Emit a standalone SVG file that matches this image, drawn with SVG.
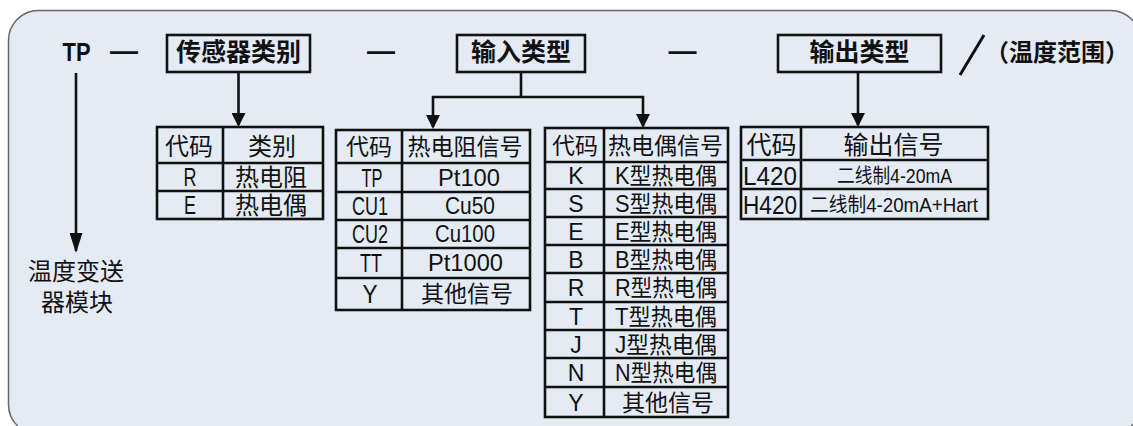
<svg xmlns="http://www.w3.org/2000/svg" width="1133" height="426" viewBox="0 0 1133 426">
<defs>
<style>
.t{font-family:"Liberation Sans","Noto Sans CJK SC",sans-serif;fill:#111;text-anchor:middle;dominant-baseline:central}
.b{font-weight:700}
.h{font-size:24px}
.r{font-size:23px}
.c{font-size:25px}
.box{fill:none;stroke:#111;stroke-width:2.6}
.grid{fill:none;stroke:#111;stroke-width:2.6}
.con{fill:none;stroke:#111;stroke-width:2.6;stroke-linejoin:miter}
</style>
<marker id="arr" markerUnits="userSpaceOnUse" markerWidth="14" markerHeight="14" viewBox="0 0 14 14" refX="12" refY="7" orient="auto">
<path d="M0,0 L14,7 L0,14 z" fill="#111"/>
</marker>
<marker id="arrL" markerUnits="userSpaceOnUse" markerWidth="20" markerHeight="13" viewBox="0 0 20 13" refX="18" refY="6.5" orient="auto">
<path d="M0,0 L20,6.5 L0,13 z" fill="#111"/>
</marker>
</defs>

<rect id="frame" x="8.5" y="10.5" width="1132" height="424" rx="30" ry="30" fill="#e5ebf5" stroke="#666" stroke-width="1.5"/>

<g id="connectors">
<path class="con" d="M76,73 V251" marker-end="url(#arrL)"/>
<path class="con" d="M238.5,72 V125" marker-end="url(#arr)"/>
<path class="con" d="M521,72 V97"/>
<path class="con" d="M521,97 H433 V127" marker-end="url(#arr)"/>
<path class="con" d="M521,97 H643 V126" marker-end="url(#arr)"/>
<path class="con" d="M858,72 V125" marker-end="url(#arr)"/>
</g>

<g id="tp">
<text class="t b" x="76.5" y="51.5" style="font-size:26px" textLength="28" lengthAdjust="spacingAndGlyphs">TP</text>
</g>
<g id="dashes">
<text class="t b" x="124" y="60" style="font-size:28px;dominant-baseline:alphabetic">—</text>
<text class="t b" x="381" y="60" style="font-size:28px;dominant-baseline:alphabetic">—</text>
<text class="t b" x="682.5" y="60" style="font-size:28px;dominant-baseline:alphabetic">—</text>
</g>

<g id="box-sensor">
<rect class="box" x="167" y="35" width="143" height="37"/>
<text class="t b" x="238.5" y="52" style="font-size:25px">传感器类别</text>
</g>
<g id="box-input">
<rect class="box" x="457" y="35" width="128" height="37"/>
<text class="t b" x="521" y="52" style="font-size:25px">输入类型</text>
</g>
<g id="box-output">
<rect class="box" x="778" y="35" width="163" height="37"/>
<text class="t b" x="859.5" y="52" style="font-size:25px">输出类型</text>
</g>
<g id="temp-range">
<line x1="960" y1="75" x2="984" y2="35" stroke="#111" stroke-width="3"/>
<text class="t b" x="1057" y="52" style="font-size:24px">（温度范围）</text>
</g>

<g id="label-module">
<text class="t" x="76" y="271" style="font-size:24px">温度变送</text>
<text class="t" x="77" y="302" style="font-size:24px">器模块</text>
</g>

<g id="table-sensor">
<rect class="grid" x="157" y="127" width="166" height="92"/>
<path class="grid" d="M223,127 V219 M157,163 H323 M157,191 H323"/>
<text class="t h" x="189" y="146">代码</text>
<text class="t h" x="272" y="146">类别</text>
<text class="t c" x="190" y="177" textLength="13" lengthAdjust="spacingAndGlyphs">R</text>
<text class="t h" x="271" y="177">热电阻</text>
<text class="t c" x="190" y="205" textLength="12" lengthAdjust="spacingAndGlyphs">E</text>
<text class="t h" x="271" y="205">热电偶</text>
</g>

<g id="table-rtd">
<rect class="grid" x="336" y="130" width="194" height="180"/>
<path class="grid" d="M402,130 V310 M336,163 H530 M336,192 H530 M336,220 H530 M336,248 H530 M336,278 H530"/>
<text class="t r" x="369" y="147">代码</text>
<text class="t r" x="465" y="147">热电阻信号</text>
<text class="t c" x="372" y="178" textLength="21" lengthAdjust="spacingAndGlyphs">TP</text>
<text class="t r" x="469" y="178" textLength="62" lengthAdjust="spacingAndGlyphs">Pt100</text>
<text class="t c" x="370" y="206" textLength="36" lengthAdjust="spacingAndGlyphs">CU1</text>
<text class="t r" x="470" y="206" textLength="50" lengthAdjust="spacingAndGlyphs">Cu50</text>
<text class="t c" x="370" y="234" textLength="36" lengthAdjust="spacingAndGlyphs">CU2</text>
<text class="t r" x="465" y="234" textLength="60" lengthAdjust="spacingAndGlyphs">Cu100</text>
<text class="t c" x="371" y="263" textLength="22" lengthAdjust="spacingAndGlyphs">TT</text>
<text class="t r" x="465.5" y="263" textLength="75" lengthAdjust="spacingAndGlyphs">Pt1000</text>
<text class="t c" x="370" y="294" textLength="15" lengthAdjust="spacingAndGlyphs">Y</text>
<text class="t r" x="467" y="294">其他信号</text>
</g>

<g id="table-tc">
<rect class="grid" x="545" y="128" width="183" height="289"/>
<path class="grid" d="M604,128 V417 M545,162 H728 M545,189 H728 M545,217 H728 M545,245 H728 M545,273 H728 M545,302 H728 M545,330 H728 M545,358 H728 M545,387 H728"/>
<text class="t r" x="575" y="145.5">代码</text>
<text class="t r" x="665.5" y="145.5">热电偶信号</text>
<text class="t r" x="576" y="176">K</text>
<text class="t r" x="666" y="176" textLength="102" lengthAdjust="spacingAndGlyphs">K型热电偶</text>
<text class="t r" x="576" y="203.5">S</text>
<text class="t r" x="666" y="203.5" textLength="102" lengthAdjust="spacingAndGlyphs">S型热电偶</text>
<text class="t r" x="576" y="231.5">E</text>
<text class="t r" x="666" y="231.5" textLength="102" lengthAdjust="spacingAndGlyphs">E型热电偶</text>
<text class="t r" x="576" y="259.5">B</text>
<text class="t r" x="666" y="259.5" textLength="102" lengthAdjust="spacingAndGlyphs">B型热电偶</text>
<text class="t r" x="576" y="288">R</text>
<text class="t r" x="666" y="288" textLength="102" lengthAdjust="spacingAndGlyphs">R型热电偶</text>
<text class="t r" x="576" y="316.5">T</text>
<text class="t r" x="666" y="316.5" textLength="102" lengthAdjust="spacingAndGlyphs">T型热电偶</text>
<text class="t r" x="576" y="344.5">J</text>
<text class="t r" x="666" y="344.5" textLength="102" lengthAdjust="spacingAndGlyphs">J型热电偶</text>
<text class="t r" x="576" y="373">N</text>
<text class="t r" x="666" y="373" textLength="102" lengthAdjust="spacingAndGlyphs">N型热电偶</text>
<text class="t r" x="576" y="402.5">Y</text>
<text class="t r" x="668" y="402.5">其他信号</text>
</g>

<g id="table-output">
<rect class="grid" x="741" y="127" width="247" height="92"/>
<path class="grid" d="M801,127 V219 M741,160 H988 M741,189 H988"/>
<text class="t" x="771.5" y="145" style="font-size:25px">代码</text>
<text class="t" x="893.5" y="145" style="font-size:25px">输出信号</text>
<text class="t" x="770" y="175.5" style="font-size:25px" textLength="54" lengthAdjust="spacingAndGlyphs">L420</text>
<text class="t" x="894.5" y="176" style="font-size:20px" textLength="115" lengthAdjust="spacingAndGlyphs">二线制4-20mA</text>
<text class="t" x="770" y="204.5" style="font-size:25px" textLength="54" lengthAdjust="spacingAndGlyphs">H420</text>
<text class="t" x="894" y="205" style="font-size:20px" textLength="168" lengthAdjust="spacingAndGlyphs">二线制4-20mA+Hart</text>
</g>
</svg>
